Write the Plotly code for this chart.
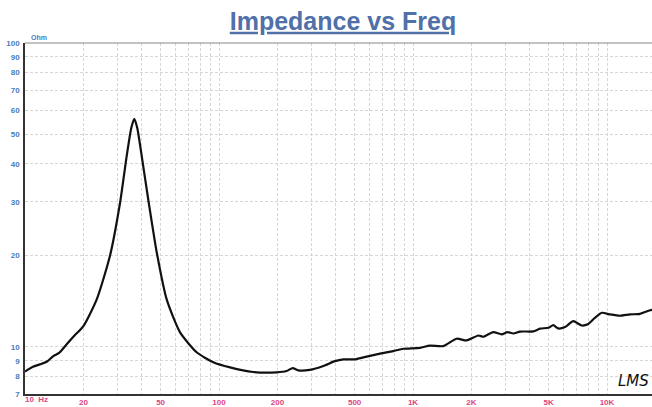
import plotly.graph_objects as go

# Impedance curve (frequency in Hz, impedance in Ohm)
freq_hz = [10.0, 11.0, 11.95, 13.0, 14.0, 15.0, 16.4, 18.0, 20.0, 23.4, 27.4, 30.9,
           33.4, 35.3, 36.6, 37.9, 40.0, 43.2, 47.8, 53.8, 63.0, 76.7, 93.5, 114,
           150, 198, 223, 240, 256, 294, 345, 396, 438, 503, 577, 676, 791, 891,
           1087, 1223, 1432, 1679, 1890, 2172, 2303, 2594, 2865, 3063, 3290, 3563,
           4171, 4515, 4986, 5289, 5600, 6075, 6700, 7405, 8010, 8670, 9400, 10370,
           11670, 13140, 14800, 16670, 18000]
impedance_ohm = [8.3, 8.6, 8.76, 8.95, 9.33, 9.55, 10.2, 10.9, 11.7, 14.3, 19.9, 29.8,
                 42.3, 52.5, 56.3, 52.5, 42.3, 30.5, 20.4, 14.3, 11.16, 9.6, 8.9, 8.56,
                 8.27, 8.25, 8.33, 8.52, 8.37, 8.4, 8.65, 8.98, 9.1, 9.1, 9.29, 9.5, 9.69, 9.86,
                 9.93, 10.1, 10.06, 10.64, 10.5, 10.9, 10.8, 11.19, 11.0, 11.19, 11.07, 11.23,
                 11.25, 11.48, 11.56, 11.79, 11.5, 11.62, 12.15, 11.76, 11.9, 12.47, 12.95, 12.79,
                 12.66, 12.79, 12.85, 13.2, 13.3]

x_tick_vals = [10, 20, 30, 40, 50, 60, 70, 80, 90, 100, 200, 300, 400, 500, 600, 700, 800, 900,
               1000, 2000, 3000, 4000, 5000, 6000, 7000, 8000, 9000, 10000, 20000]
x_tick_text = ["", "20", "", "", "50", "", "", "", "", "100", "200", "", "", "500", "", "", "", "",
               "1K", "2K", "", "", "5K", "", "", "", "", "10K", ""]
y_tick_vals = [7, 8, 9, 10, 20, 30, 40, 50, 60, 70, 80, 90, 100]
y_tick_text = ["7", "8", "9", "10", "20", "30", "40", "50", "60", "70", "80", "90", "100"]

W, H = 652, 407
ML, MT, MB = 25, 43, 13
x_decade_px = 194.0
x_max_log = 1 + (W - ML) / x_decade_px

fig = go.Figure()
fig.add_trace(go.Scatter(
    x=freq_hz, y=impedance_ohm, mode="lines",
    line=dict(color="#111111", width=2.2, shape="spline", smoothing=0.6),
    hoverinfo="skip", showlegend=False))

pink = "#e0457f"
blue = "#4a7bc0"
grid = "#d6d6d6"
font_fam = "Liberation Sans, Arial"

fig.update_layout(
    width=W, height=H,
    margin=dict(l=ML, r=0, t=MT, b=MB, autoexpand=False),
    paper_bgcolor="white", plot_bgcolor="white",
    title=dict(text="<u><b>Impedance vs Freq</b></u>", x=343 / W, xanchor="center",
               y=1 - 21 / H, yanchor="middle",
               font=dict(family=font_fam, size=25, color="#4f70a8")),
    xaxis=dict(type="log", range=[1, x_max_log], tickvals=x_tick_vals, ticktext=x_tick_text,
               showgrid=True, gridcolor=grid, griddash="3px,2px", gridwidth=1,
               showline=True, linecolor="#333333", linewidth=1.5, ticks="",
               tickfont=dict(family=font_fam, size=8, color=pink, weight="bold"),
               ticklabelstandoff=0, zeroline=False, fixedrange=True),
    yaxis=dict(type="log", range=[0.845, 2.0], tickvals=y_tick_vals, ticktext=y_tick_text,
               showgrid=True, gridcolor=grid, griddash="3px,2px", gridwidth=1,
               showline=True, linecolor="#333333", linewidth=1.5, ticks="",
               tickfont=dict(family=font_fam, size=8, color=blue, weight="bold"),
               ticklabelstandoff=2, zeroline=False, fixedrange=True),
    shapes=[dict(type="line", xref="paper", yref="paper", x0=0, x1=1, y0=1, y1=1,
                 line=dict(color="#888888", width=1.2))],
    annotations=[
        dict(text="<b>Ohm</b>", xref="paper", yref="paper", x=0, y=1, xanchor="left",
             yanchor="bottom", xshift=4, yshift=0, showarrow=False,
             font=dict(family=font_fam, size=7, color=blue)),
        dict(text="<b>10  Hz</b>", xref="paper", yref="paper", x=0, y=0, xanchor="left",
             yanchor="top", xshift=-2, yshift=1, showarrow=False,
             font=dict(family=font_fam, size=8, color=pink)),
        dict(text="<i>LMS</i>", xref="paper", yref="paper", x=1, y=0, xanchor="right",
             yanchor="bottom", xshift=-1, yshift=2, showarrow=False,
             font=dict(family="DejaVu Sans", size=15, color="#111111")),
    ],
)

fig.write_html("out.html", config={"displayModeBar": False},
               post_script="document.body.style.margin='0';document.body.style.overflow='hidden';")
